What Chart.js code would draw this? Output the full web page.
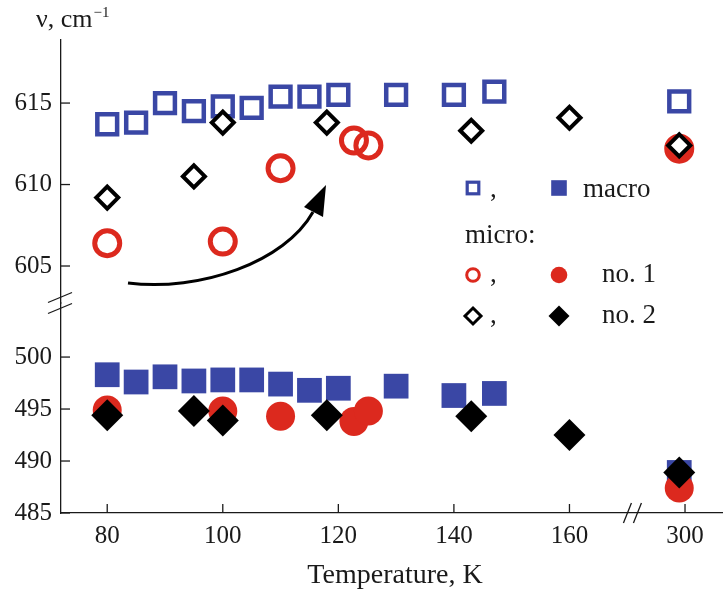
<!DOCTYPE html>
<html>
<head>
<meta charset="utf-8">
<script src="https://cdn.jsdelivr.net/npm/chart.js@4/dist/chart.umd.min.js"></script>
<style>
  html, body { margin: 0; background: #fff; }
</style>
</head>
<body>
<canvas id="chart" width="724" height="589"></canvas>
<script>
// temperatures (K) and band positions (cm-1)
const tMacro = [80, 85, 90, 95, 100, 105, 110, 115, 120, 130, 140, 147, 299];
const macroHigh = [613.7, 613.8, 615.0, 614.5, 614.8, 614.7, 615.4, 615.4, 615.5, 615.5, 615.5, 615.7, 615.1];
const macroLow = [498.3, 497.6, 498.1, 497.7, 497.8, 497.8, 497.4, 496.8, 497.0, 497.2, 496.3, 496.5, 488.9];
const tNo1 = [80, 100, 110, 122.7, 125.2, 299];
const no1High = [606.4, 606.5, 611.0, 612.7, 612.4, 612.2];
const no1Low = [494.9, 494.8, 494.3, 493.8, 494.8, 487.4];
const tNo2 = [80, 95, 100, 118, 143, 160, 299];
const no2High = [609.2, 610.5, 613.8, 613.8, 613.3, 614.1, 612.4];
const no2Low = [494.4, 494.8, 493.9, 494.4, 494.3, 492.5, 488.9];

const xTicks = [80, 100, 120, 140, 160, 300];
const yHighTicks = [605, 610, 615];
const yLowTicks = [485, 490, 495, 500];

const BLUE = '#3a47a5';
const RED = '#dc291e';
const INK = '#1a1a1a';
const SERIF = "'Liberation Serif', 'DejaVu Serif', serif";

// the x axis is broken between 160 and 300 K
const xPos = t => (t > 200 ? t - 120 : t);
const pts = (ts, vs) => ts.map((t, i) => ({ x: xPos(t), y: vs[i] }));

const decor = {
  id: 'decor',
  afterDraw(chart) {
    const { ctx, chartArea: a, scales } = chart;
    const line = (x1, y1, x2, y2) => { ctx.beginPath(); ctx.moveTo(x1, y1); ctx.lineTo(x2, y2); ctx.stroke(); };
    ctx.save();
    ctx.strokeStyle = INK;
    ctx.lineWidth = 1.3;
    // inward ticks
    scales.x.ticks.forEach(t => {
      const px = scales.x.getPixelForValue(t.value);
      line(px, a.bottom, px, a.bottom - 9);
    });
    ['yHigh', 'yLow'].forEach(id => {
      scales[id].ticks.forEach(t => {
        const py = scales[id].getPixelForValue(t.value);
        line(a.left, py, a.left + 9, py);
      });
    });
    // break marks
    const yb = scales.yLow.top;
    line(a.left - 13, yb - 0.5, a.left + 11, yb - 10.5);
    line(a.left - 13, yb + 10.5, a.left + 11, yb + 0.5);
    const xb = scales.x.getPixelForValue(170.9);
    line(xb - 9, a.bottom + 10, xb - 1, a.bottom - 10);
    line(xb + 1, a.bottom + 10, xb + 9, a.bottom - 10);

    // arrow
    ctx.lineWidth = 3;
    ctx.strokeStyle = '#000';
    ctx.beginPath();
    ctx.moveTo(128, 283);
    ctx.bezierCurveTo(200, 292, 285, 262, 313, 212);
    ctx.stroke();
    ctx.fillStyle = '#000';
    ctx.beginPath();
    ctx.moveTo(326, 185);
    ctx.lineTo(304, 207);
    ctx.lineTo(323, 217);
    ctx.closePath();
    ctx.fill();

    // axis titles
    ctx.fillStyle = INK;
    ctx.textAlign = 'left';
    ctx.textBaseline = 'alphabetic';
    ctx.font = '26px ' + SERIF;
    ctx.fillText('ν, cm', 36, 27);
    const w = ctx.measureText('ν, cm').width;
    ctx.font = '15px ' + SERIF;
    ctx.fillText('−1', 36 + w + 1, 17);
    ctx.font = '28px ' + SERIF;
    ctx.textAlign = 'center';
    ctx.fillText('Temperature, K', 395, 583);

    // legend
    ctx.textAlign = 'left';
    ctx.font = '27px ' + SERIF;
    ctx.fillStyle = INK;
    ctx.fillText(',', 490, 197);
    ctx.fillText('macro', 583, 197);
    ctx.fillText('micro:', 465, 243);
    ctx.fillText(',', 490, 282);
    ctx.fillText('no. 1', 602, 282);
    ctx.fillText(',', 490, 323);
    ctx.fillText('no. 2', 602, 323);

    ctx.lineWidth = 3.2;
    ctx.strokeStyle = BLUE;
    ctx.strokeRect(473 - 5.8, 188 - 5.8, 11.6, 11.6);
    ctx.fillStyle = BLUE;
    ctx.fillRect(559 - 7.8, 188 - 7.8, 15.6, 15.6);

    ctx.strokeStyle = RED;
    ctx.lineWidth = 3;
    ctx.beginPath(); ctx.arc(473, 275, 6.3, 0, Math.PI * 2); ctx.stroke();
    ctx.fillStyle = RED;
    ctx.beginPath(); ctx.arc(559, 275, 8.3, 0, Math.PI * 2); ctx.fill();

    const diamond = (x, y, r) => {
      ctx.beginPath();
      ctx.moveTo(x, y - r); ctx.lineTo(x + r, y); ctx.lineTo(x, y + r); ctx.lineTo(x - r, y);
      ctx.closePath();
    };
    ctx.strokeStyle = '#000';
    ctx.lineWidth = 3;
    diamond(473, 316, 8); ctx.stroke();
    ctx.fillStyle = '#000';
    diamond(559, 316, 10.5); ctx.fill();
    ctx.restore();
  }
};

const tickFont = { family: SERIF, size: 25 };

new Chart(document.getElementById('chart').getContext('2d'), {
  type: 'scatter',
  data: {
    datasets: [
      { label: 'no. 2 (600)', data: pts(tNo2, no2High), yAxisID: 'yHigh',
        pointStyle: 'rectRot', pointRadius: 11, pointBorderWidth: 4,
        pointBorderColor: '#000', pointBackgroundColor: '#fff' },
      { label: 'no. 2 (500)', data: pts(tNo2, no2Low), yAxisID: 'yLow',
        pointStyle: 'rectRot', pointRadius: 16, pointBorderWidth: 0,
        pointBorderColor: '#000', pointBackgroundColor: '#000' },
      { label: 'no. 1 (600)', data: pts(tNo1, no1High), yAxisID: 'yHigh',
        pointStyle: 'circle', pointRadius: 12.5, pointBorderWidth: 5,
        pointBorderColor: RED,
        pointBackgroundColor: c => (c.raw && c.raw.x > 170 ? RED : 'rgba(0,0,0,0)') },
      { label: 'no. 1 (500)', data: pts(tNo1, no1Low), yAxisID: 'yLow',
        pointStyle: 'circle', pointRadius: 14.5, pointBorderWidth: 0,
        pointBorderColor: RED, pointBackgroundColor: RED },
      { label: 'macro (600)', data: pts(tMacro, macroHigh), yAxisID: 'yHigh',
        pointStyle: 'rect', pointRadius: 14, pointBorderWidth: 4.5,
        pointBorderColor: BLUE, pointBackgroundColor: 'rgba(0,0,0,0)' },
      { label: 'macro (500)', data: pts(tMacro, macroLow), yAxisID: 'yLow',
        pointStyle: 'rect', pointRadius: 17.5, pointBorderWidth: 0,
        pointBorderColor: BLUE, pointBackgroundColor: BLUE }
    ]
  },
  options: {
    responsive: false,
    animation: false,
    events: [],
    layout: { autoPadding: false, padding: { top: 40, right: 2, left: 0, bottom: 0 } },
    plugins: { legend: { display: false }, tooltip: { enabled: false } },
    scales: {
      x: {
        type: 'linear', min: 72, max: 186.4,
        grid: { display: false, drawTicks: false },
        border: { color: INK, width: 1.3 },
        ticks: { font: tickFont, color: INK, padding: 8,
                 callback: (v, i) => xTicks[i] },
        afterBuildTicks: s => { s.ticks = xTicks.map(v => ({ value: xPos(v) })); },
        afterFit: s => { s.height = 76; s.paddingLeft = 0; s.paddingRight = 0; }
      },
      yLow: {
        type: 'linear', position: 'left', stack: 'v', stackWeight: 210,
        min: 485, max: 505.2,
        grid: { display: false, drawTicks: false },
        border: { color: INK, width: 1.3 },
        ticks: { font: tickFont, color: INK, padding: 9 },
        afterBuildTicks: s => { s.ticks = yLowTicks.map(v => ({ value: v })); },
        afterFit: s => { s.width = 61; s.paddingTop = 0; s.paddingBottom = 0; }
      },
      yHigh: {
        type: 'linear', position: 'left', stack: 'v', stackWeight: 263,
        min: 602.73, max: 618.87,
        grid: { display: false, drawTicks: false },
        border: { color: INK, width: 1.3 },
        ticks: { font: tickFont, color: INK, padding: 9 },
        afterBuildTicks: s => { s.ticks = yHighTicks.map(v => ({ value: v })); },
        afterFit: s => { s.width = 61; s.paddingTop = 0; s.paddingBottom = 0; }
      }
    }
  },
  plugins: [decor]
});
</script>
</body>
</html>
